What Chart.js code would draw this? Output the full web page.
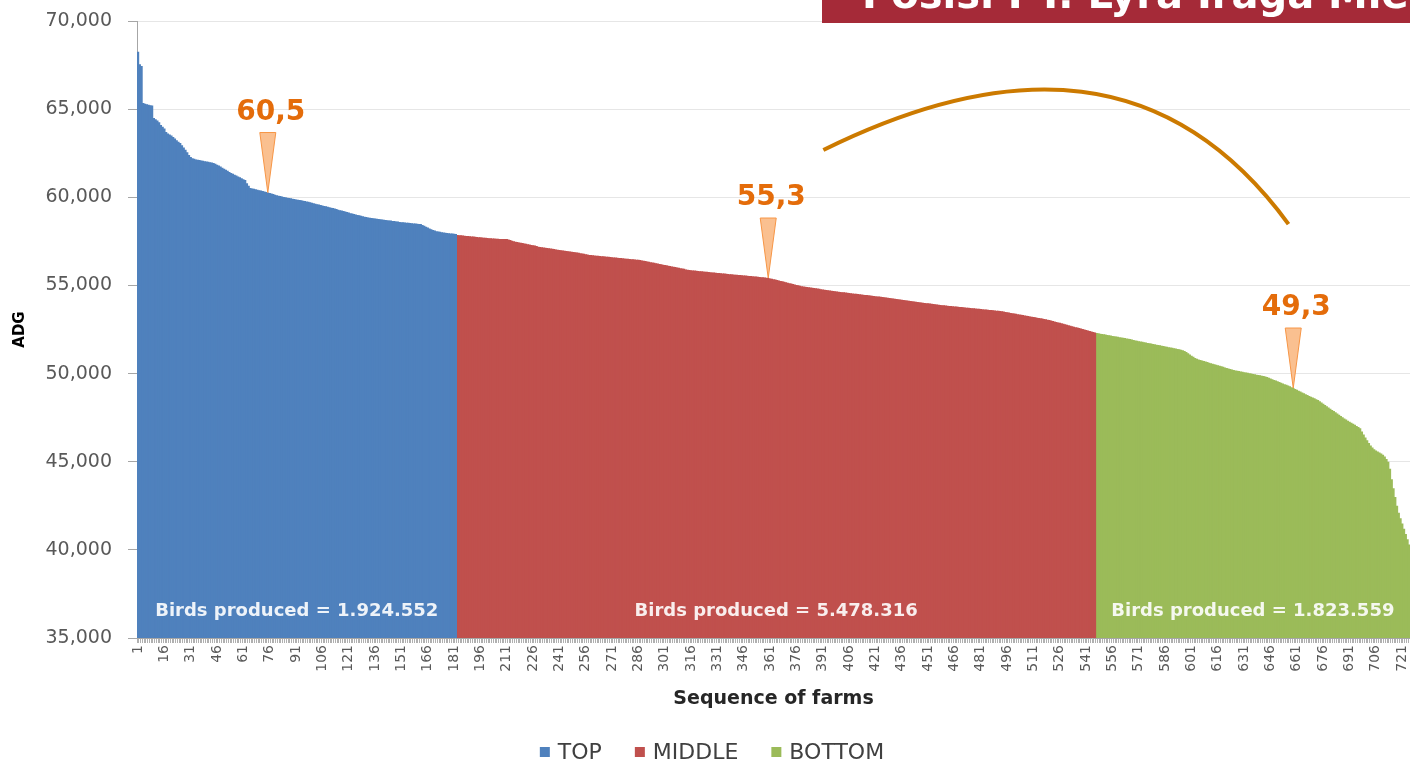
<!DOCTYPE html>
<html><head><meta charset="utf-8">
<script src="https://cdn.jsdelivr.net/npm/chart.js@4.4.1/dist/chart.umd.min.js"></script>
<style>html,body{margin:0;padding:0;background:#fff;overflow:hidden}canvas{display:block}</style>
</head><body>
<canvas id="c" width="1410" height="764"></canvas>
<script>
// ---- data (ADG per farm, sorted descending) ----
const TOP_ADG = [
68250,67550,67450,65350,65300,65280,65250,65220,65200,64500,
64420,64350,64250,64100,64000,63900,63700,63620,63560,63500,
63420,63330,63240,63150,63080,62950,62820,62700,62550,62400,
62290,62220,62180,62150,62130,62110,62090,62070,62050,62030,
62010,61990,61970,61940,61900,61850,61800,61740,61680,61620,
61560,61500,61430,61380,61330,61280,61230,61180,61130,61080,
61030,60980,60800,60650,60530,60500,60480,60450,60430,60400,
60380,60350,60330,60300,60270,60240,60210,60180,60150,60120,
60090,60070,60040,60020,60000,59980,59960,59940,59920,59900,
59880,59860,59850,59830,59810,59790,59760,59740,59720,59690,
59660,59640,59610,59590,59560,59540,59510,59490,59460,59440,
59410,59390,59360,59330,59300,59270,59250,59220,59190,59160,
59130,59100,59080,59050,59030,59000,58980,58950,58930,58900,
58880,58860,58840,58830,58810,58800,58780,58770,58750,58740,
58720,58710,58700,58690,58680,58660,58650,58630,58620,58600,
58590,58580,58570,58560,58550,58540,58530,58520,58510,58500,
58490,58480,58430,58380,58330,58280,58230,58180,58140,58110,
58080,58060,58040,58020,58000,57990,57970,57960,57950,57940,
57930,57920];
const MIDDLE_ADG = [
57860,57850,57840,57830,57820,57810,57800,57790,57780,57770,
57760,57750,57740,57730,57720,57710,57700,57690,57680,57670,
57660,57655,57650,57645,57640,57638,57635,57632,57630,
57600,57570,57540,57510,57480,57460,57440,57420,57400,57380,
57360,57340,57320,57300,57280,57260,57230,57200,57180,
57165,57150,57135,57120,57105,57090,57075,57060,57045,57030,
57015,57000,56985,56970,56955,56940,56925,56910,56895,56880,
56865,56850,56830,56810,56790,56770,56750,56730,
56720,56710,56700,56690,56680,56670,56660,56650,56640,56630,
56620,56610,56600,56590,56580,56570,56560,56550,56540,56530,
56520,56510,56500,56490,56480,56470,56460,56450,56440,
56420,56400,56380,56360,56340,56320,56300,56280,56260,56240,
56220,56200,56180,56160,56140,56120,56100,56080,56060,56040,
56020,56000,55980,55960,55940,55910,55890,55870,
55860,55850,55840,55830,55820,55810,55800,55790,55780,55770,
55760,55750,55740,55730,55720,55710,55700,55690,55680,55670,
55660,55650,55640,55630,55620,55610,55600,55595,55590,
55580,55570,55560,55550,55540,55530,55520,55510,55500,55490,
55480,55470,55460,55450,55435,55420,
55400,55380,55355,55330,55305,55280,55255,55230,55205,55180,
55155,55130,55105,55080,55055,55030,55005,54980,54960,54940,
54925,54910,
54895,54880,54865,54850,54835,54820,54805,54790,54775,54760,
54745,54730,54715,54700,54685,54670,54655,54640,54630,
54618,54606,54594,54582,54570,54558,54546,54534,54522,54510,
54498,54486,54474,54462,54450,54438,54426,54414,54402,54390,
54378,54366,54354,54342,54330,54318,54304,54290,
54276,54262,54248,54234,54220,54206,54192,54178,54164,54150,
54136,54122,54108,54094,54080,54066,54052,54038,54024,54010,
53996,53982,53968,53954,53940,53928,53915,53902,53890,
53880,53870,53860,53850,53840,53830,53820,53810,53800,53790,
53780,53770,53760,53750,53740,53730,53720,53710,53700,53690,
53680,53670,53660,53650,53640,53630,53620,53610,53600,53590,
53580,53570,53560,53550,
53532,53514,53496,53478,53460,53442,53424,53406,53388,53370,
53352,53334,53316,53298,53280,53262,53244,53226,53208,53190,
53172,53154,53136,53118,53100,53080,53060,53040,
53012,52985,52958,52931,52904,52877,52850,52823,52796,52769,
52742,52715,52688,52661,52634,52607,52580,52553,52526,52499,
52472,52445,52418,52391,52360,52330];
const BOTTOM_ADG = [
52300,52282,52264,52246,52228,52210,52192,52174,52156,52138,
52120,52102,52084,52066,52048,52030,52012,51994,51976,51958,
51930,51900,
51880,51860,51840,51820,51800,51780,51760,51740,51720,51700,
51680,51660,51640,51620,51600,51580,51560,51540,51520,51500,
51480,51460,51440,51420,51400,51380,51355,51330,
51280,51220,51150,51080,51010,50950,50890,50840,50800,50770,
50740,50710,50680,50650,50620,50590,50560,50530,50500,50470,
50440,50410,50380,50350,50320,50290,50260,50230,50200,
50180,50160,50140,50120,50100,50080,50060,50040,50020,50000,
49980,49960,49940,49920,49900,49880,49860,49830,49800,
49760,49720,49680,49640,49600,49560,49520,49480,49440,49400,
49360,49320,49280,49230,49180,
49130,49080,49030,48980,48930,48880,48830,48780,48730,48680,
48640,48600,48550,48500,
48430,48360,48290,48220,48150,48080,48010,47940,47870,47800,
47730,47660,47590,47520,47450,
47390,47330,47270,47210,47150,47090,47030,46970,46900,
46720,46540,46380,46220,46060,45920,45800,45700,
45640,45580,45520,45460,45400,45300,45150,45000,
44600,44000,43500,43000,42500,42100,41800,41500,41200,40900,
40600,40300];

const GROUP_NAMES = ['TOP', 'MIDDLE', 'BOTTOM'];
const GROUP_COLORS = ['#4F81BD', '#C0504D', '#9BBB59'];
const BIRDS_PRODUCED = ['Birds produced = 1.924.552', 'Birds produced = 5.478.316', 'Birds produced = 1.823.559'];
const SHOWN_TICKS = [1,16,31,46,61,76,91,106,121,136,151,166,181,196,211,226,241,256,271,286,301,316,331,346,361,376,391,406,421,436,451,466,481,496,511,526,541,556,571,586,601,616,631,646,661,676,691,706,721];
const AVERAGE_MARKS = [{farm: 75, text: '60,5'}, {farm: 360, text: '55,3'}, {farm: 659, text: '49,3'}];
// decorative curve: cubic Bezier control points as [farm position, ADG]
const CURVE_POINTS = [[391.4, 62680], [497.7, 67900], [588.8, 67670], [656.3, 58480]];
const Y_MIN = 35000, Y_MAX = 70000, Y_STEP = 5000;
const X_TITLE = 'Sequence of farms';
const Y_TITLE = 'ADG';
const HEADER_TEXT = 'Posisi PT. Lyra Iraga Mie';

// ---- build chart data ----
const GROUPS = [TOP_ADG, MIDDLE_ADG, BOTTOM_ADG];
const ALL_ADG = [].concat(...GROUPS);
const N = ALL_ADG.length;
const FARMS = ALL_ADG.map((_, i) => String(i + 1));
const RANGES = [];
let off = 0;
const datasets = GROUPS.map((g, gi) => {
  const d = new Array(N).fill(null);
  g.forEach((v, i) => { d[off + i] = v; });
  RANGES.push([off, off + g.length - 1]);
  off += g.length;
  return {
    label: GROUP_NAMES[gi], data: d, backgroundColor: GROUP_COLORS[gi],
    borderWidth: 0, barPercentage: 1.5, categoryPercentage: 1, grouped: false
  };
});

const FONT = 'DejaVu Sans';
Chart.defaults.font.family = FONT;

function fmt(v) { return String(v).replace(/\B(?=(\d{3})+(?!\d))/g, ','); }

const decor = {
  id: 'decor',
  beforeDraw(chart) {
    const ctx = chart.ctx;
    ctx.save(); ctx.fillStyle = '#ffffff'; ctx.fillRect(0, 0, chart.width, chart.height); ctx.restore();
  },
  afterDatasetsDraw(chart) {
    const ctx = chart.ctx, xs = chart.scales.x, ys = chart.scales.y, ca = chart.chartArea;
    ctx.save();
    // group labels
    ctx.font = 'bold 18px ' + FONT;
    ctx.fillStyle = 'rgba(255,255,255,0.9)';
    ctx.textAlign = 'center'; ctx.textBaseline = 'middle';
    RANGES.forEach((r, i) => {
      const x0 = xs.getPixelForValue(r[0]), x1 = xs.getPixelForValue(r[1]);
      ctx.fillText(BIRDS_PRODUCED[i], (x0 + x1) / 2, ca.bottom - 27);
    });
    // average callouts
    AVERAGE_MARKS.forEach(m => {
      const x = xs.getPixelForValue(m.farm - 1);
      const tip = ys.getPixelForValue(ALL_ADG[m.farm - 1]);
      const top = tip - 60;
      ctx.beginPath();
      ctx.moveTo(x - 8, top); ctx.lineTo(x + 8, top); ctx.lineTo(x, tip); ctx.closePath();
      ctx.fillStyle = '#FAC090'; ctx.fill();
      ctx.strokeStyle = '#F79646'; ctx.lineWidth = 1; ctx.stroke();
      ctx.font = 'bold 28px ' + FONT;
      ctx.fillStyle = '#E46C0A';
      ctx.fillText(m.text, x + 3, tip - 80);
    });
    // decorative curve
    const p = CURVE_POINTS.map(a => [xs.getPixelForValue(a[0] - 1), ys.getPixelForValue(a[1])]);
    ctx.beginPath();
    ctx.moveTo(p[0][0], p[0][1]);
    ctx.bezierCurveTo(p[1][0], p[1][1], p[2][0], p[2][1], p[3][0], p[3][1]);
    ctx.strokeStyle = '#CC7A00'; ctx.lineWidth = 4; ctx.stroke();
    ctx.restore();
  },
  afterDraw(chart) {
    const ctx = chart.ctx;
    ctx.save();
    // header box (cut off at top of picture)
    ctx.fillStyle = '#A52A38';
    ctx.fillRect(822, 0, chart.width - 822, 23);
    ctx.fillStyle = '#ffffff';
    ctx.font = 'bold 40px ' + FONT;
    ctx.textAlign = 'left'; ctx.textBaseline = 'alphabetic';
    ctx.fillText(HEADER_TEXT, 862, 8);
    // legend
    ctx.font = '22px ' + FONT;
    ctx.textBaseline = 'middle';
    const box = 10, gapIn = 8, gapOut = 33;
    const dsl = chart.data.datasets;
    const widths = dsl.map(ds => ctx.measureText(ds.label).width);
    const total = widths.reduce((s, w) => s + w, 0) + dsl.length * (box + gapIn) + (dsl.length - 1) * gapOut;
    let x = 712 - total / 2;
    const y = 752;
    dsl.forEach((ds, i) => {
      ctx.fillStyle = ds.backgroundColor;
      ctx.fillRect(x, y - box / 2, box, box);
      x += box + gapIn;
      ctx.fillStyle = '#404040';
      ctx.fillText(ds.label, x, y + 1);
      x += widths[i] + gapOut;
    });
    ctx.restore();
  }
};

new Chart(document.getElementById('c'), {
  type: 'bar',
  data: { labels: FARMS, datasets },
  options: {
    responsive: false, animation: false, devicePixelRatio: 1,
    layout: { padding: { left: 11, top: 21, right: 0, bottom: 54 } },
    plugins: { legend: { display: false }, tooltip: { enabled: false } },
    scales: {
      x: {
        ticks: {
          autoSkip: false, minRotation: 90, maxRotation: 90, padding: 2,
          color: '#595959', font: { family: FONT, size: 14 },
          callback: function (val) { const lab = this.getLabelForValue(val); return SHOWN_TICKS.includes(+lab) ? lab : ''; }
        },
        grid: { drawOnChartArea: false, tickLength: 5, tickColor: '#B0B0B0', offset: true },
        border: { color: '#A6A6A6' },
        title: { display: true, text: X_TITLE, color: '#262626', font: { family: FONT, size: 19, weight: 'bold' }, padding: 0 },
        afterFit: s => { s.height = 72; s.paddingLeft = 0; s.paddingRight = 0; }
      },
      y: {
        min: Y_MIN, max: Y_MAX,
        ticks: { stepSize: Y_STEP, padding: 16, color: '#595959', font: { family: FONT, size: 19 }, callback: v => fmt(v) },
        grid: { color: '#E6E6E6', tickColor: '#A6A6A6', tickLength: 9 },
        border: { color: '#A6A6A6' },
        title: { display: true, text: Y_TITLE, color: '#000000', font: { family: FONT, size: 15, weight: 'bold' }, padding: 0 },
        afterFit: s => { s.width = 126; s.paddingTop = 0; s.paddingBottom = 0; }
      }
    }
  },
  plugins: [decor]
});
</script>
</body></html>
